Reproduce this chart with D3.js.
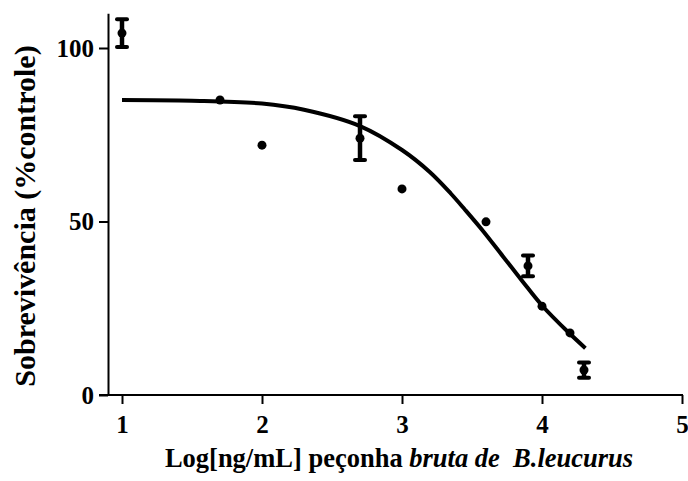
<!DOCTYPE html>
<html>
<head>
<meta charset="utf-8">
<script src="https://cdn.jsdelivr.net/npm/d3@7"></script>
<style>
  html, body { margin: 0; padding: 0; background: #fff; }
  svg { display: block; }
  text { font-family: "Liberation Serif", "Times New Roman", serif; font-weight: bold; fill: #000; }
</style>
</head>
<body>
<svg id="chart" width="688" height="481"></svg>
<script>
// ---- Data ----
const doseLog = [1.0, 1.7, 2.0, 2.7, 3.0, 3.6, 3.9, 4.0, 4.2, 4.3];
const survival = [104.3, 85.0, 72.0, 74.0, 59.4, 49.9, 37.2, 25.6, 17.9, 7.2];
const errorSem = [4.0, 0, 0, 6.3, 0, 0, 3.0, 0, 0, 2.2];

// fitted curve
const fitX = [1.0, 1.5, 2.0, 2.3, 2.7, 3.0, 3.2, 3.35, 3.45, 3.58, 3.72, 3.86, 4.0, 4.19, 4.31];
const fitY = [85.0, 84.8, 84.0, 82.2, 77.5, 70.6, 64.2, 58.0, 53.4, 47.2, 40.0, 32.8, 25.8, 18.0, 13.5];

const xTicks = [1, 2, 3, 4, 5];
const yTicks = [0, 50, 100];
const xTitleParts = [
  { text: "Log[ng/mL] peçonha ", italic: false },
  { text: "bruta de  B.leucurus", italic: true }
];
const yTitle = "Sobrevivência (%controle)";

// ---- Layout ----
const svg = d3.select("#chart");
const x = d3.scaleLinear().domain([1, 5]).range([122, 682]);
const y = d3.scaleLinear().domain([0, 110]).range([395, 395 - 110 * 3.47]);
const yAxisX = 108;

// Y axis
const yAxis = svg.append("g")
  .attr("transform", `translate(${yAxisX},0)`)
  .call(d3.axisLeft(y).tickValues(yTicks).tickFormat(d3.format("d")).tickSize(9).tickSizeOuter(0).tickPadding(5));
yAxis.select(".domain").attr("stroke", "#000").attr("stroke-width", 2);
yAxis.selectAll(".tick line").attr("stroke", "#000").attr("stroke-width", 2);
yAxis.selectAll(".tick text")
  .attr("font-size", 25).attr("font-family", null).attr("fill", "#000")
  .attr("font-weight", "bold");

// X axis
const xAxis = svg.append("g")
  .attr("transform", `translate(0,${y(0)})`)
  .call(d3.axisBottom(x).tickValues(xTicks).tickFormat(d3.format("d")).tickSize(9).tickSizeOuter(0).tickPadding(11));
xAxis.select(".domain").remove();
xAxis.append("line")
  .attr("x1", yAxisX - 9).attr("x2", x(5) + 1)
  .attr("y1", 0).attr("y2", 0)
  .attr("stroke", "#000").attr("stroke-width", 2);
xAxis.selectAll(".tick line").attr("stroke", "#000").attr("stroke-width", 2);
xAxis.selectAll(".tick text")
  .attr("font-size", 25).attr("font-family", null).attr("fill", "#000")
  .attr("font-weight", "bold");

// Fitted curve
const fitData = fitX.map((v, i) => ({ x: v, y: fitY[i] }));
svg.append("path")
  .datum(fitData)
  .attr("fill", "none")
  .attr("stroke", "#000")
  .attr("stroke-width", 4)
  .attr("d", d3.line().x(d => x(d.x)).y(d => y(d.y)).curve(d3.curveCatmullRom.alpha(0.5)));

// Error bars
const pts = doseLog.map((v, i) => ({ x: v, y: survival[i], e: errorSem[i] }));
const eb = svg.append("g").selectAll("g").data(pts.filter(d => d.e > 0)).join("g");
eb.append("line")
  .attr("x1", d => x(d.x)).attr("x2", d => x(d.x))
  .attr("y1", d => y(d.y - d.e)).attr("y2", d => y(d.y + d.e))
  .attr("stroke", "#000").attr("stroke-width", 4.5);
eb.append("line")
  .attr("x1", d => x(d.x) - 5).attr("x2", d => x(d.x) + 5)
  .attr("y1", d => y(d.y + d.e)).attr("y2", d => y(d.y + d.e))
  .attr("stroke", "#000").attr("stroke-width", 4).attr("stroke-linecap", "round");
eb.append("line")
  .attr("x1", d => x(d.x) - 5).attr("x2", d => x(d.x) + 5)
  .attr("y1", d => y(d.y - d.e)).attr("y2", d => y(d.y - d.e))
  .attr("stroke", "#000").attr("stroke-width", 4).attr("stroke-linecap", "round");

// Points
svg.append("g").selectAll("circle").data(pts).join("circle")
  .attr("cx", d => x(d.x)).attr("cy", d => y(d.y)).attr("r", 4.5)
  .attr("fill", "#000");

// X title
const xt = svg.append("text")
  .attr("x", 399).attr("y", 467)
  .attr("text-anchor", "middle")
  .attr("font-size", 26.5)
  .style("white-space", "pre");
xt.selectAll("tspan").data(xTitleParts).join("tspan")
  .attr("font-style", d => d.italic ? "italic" : "normal")
  .text(d => d.text);

// Y title
svg.append("text")
  .attr("transform", "translate(35,216) rotate(-90)")
  .attr("text-anchor", "middle")
  .attr("font-size", 30)
  .text(yTitle);
</script>
</body>
</html>
